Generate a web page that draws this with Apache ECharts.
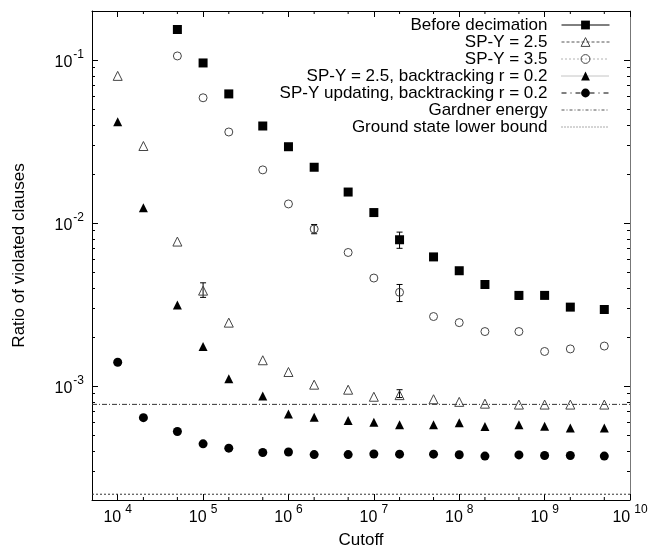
<!DOCTYPE html>
<html>
<head>
<meta charset="utf-8">
<script src="https://cdn.jsdelivr.net/npm/echarts@6/dist/echarts.min.js"></script>
<style>
  html, body { margin: 0; padding: 0; background: #fff; }
  #chart { width: 650px; height: 552px; }
</style>
</head>
<body>
<div id="chart"></div>
<script>
// cutoff values shared by every measured series
const cutoffs = [1e4, 2e4, 5e4, 1e5, 2e5, 5e5, 1e6, 2e6, 5e6, 1e7, 2e7, 5e7, 1e8, 2e8, 5e8, 1e9, 2e9, 5e9]

const beforeDecimation = [null, null, 0.154, 0.096, 0.062, 0.0394, 0.0294, 0.022, 0.0155, 0.0116, 0.0079, 0.0062, 0.0051, 0.0042, 0.0036, 0.0036, 0.00305, 0.00295]
const spy25 = [0.080, 0.0297, 0.0077, 0.00385, 0.00245, 0.00144, 0.00122, 0.00102, 0.00095, 0.00086, 0.00088, 0.00083, 0.0008, 0.00078, 0.00077, 0.00077, 0.00077, 0.00077]
const spy35 = [null, null, 0.106, 0.0587, 0.0362, 0.0212, 0.0131, 0.0092, 0.0066, 0.0046, 0.00376, 0.00267, 0.00245, 0.00216, 0.00216, 0.00163, 0.00169, 0.00176]
const spy25Back = [0.0419, 0.0124, 0.00314, 0.00175, 0.00111, 0.00087, 0.000675, 0.000643, 0.000614, 0.0006, 0.00058, 0.00058, 0.000595, 0.000565, 0.00058, 0.000566, 0.000553, 0.000553]
const spyUpdBack = [0.0014, 0.00064, 0.000526, 0.000442, 0.000416, 0.000391, 0.000394, 0.00038, 0.00038, 0.000383, 0.000382, 0.000382, 0.000379, 0.000372, 0.000378, 0.000375, 0.000375, 0.000372]

// error bars [cutoff, low, high]
const errBefore = [[2e7, 0.0070, 0.0088], [5e8, 0.0034, 0.0038]]
const errSpy35 = [[2e6, 0.0086, 0.0098], [2e7, 0.0033, 0.0042]]
const errSpy25 = [[1e5, 0.0035, 0.0043], [2e7, 0.00085, 0.00095]]

const gardnerEnergy = 0.000772
const groundStateBound = 0.000217

const xRange = [5000, 1e10]
const yRange = [2e-4, 0.2]
const xMinorTicks = [2e4, 5e4, 2e5, 5e5, 2e6, 5e6, 2e7, 5e7, 2e8, 5e8, 2e9, 5e9]

const font = 'Liberation Sans, Arial, Helvetica, sans-serif'

function pairs (ys) {
  return cutoffs.map((x, i) => [x, ys[i]]).filter(p => p[1] != null)
}

function powerLabel (v) {
  const l = Math.log10(v)
  const e = Math.round(l)
  if (Math.abs(l - e) > 1e-6) return ''
  return '{b|10}{s|' + e + '}'
}

function labelRich (gap) {
  return {
    b: { fontSize: 16, fontFamily: font, color: '#000', lineHeight: 22, verticalAlign: 'bottom' },
    s: { fontSize: 12, fontFamily: font, color: '#000', lineHeight: 22, verticalAlign: 'top', padding: [0, 0, 0, gap] }
  }
}

function renderErrorBar (params, api) {
  const top = api.coord([api.value(0), api.value(2)])
  const bottom = api.coord([api.value(0), api.value(1)])
  const w = 3
  const style = { stroke: '#000', lineWidth: 1 }
  return {
    type: 'group',
    children: [
      { type: 'line', shape: { x1: top[0], y1: top[1], x2: bottom[0], y2: bottom[1] }, style },
      { type: 'line', shape: { x1: top[0] - w, y1: top[1], x2: top[0] + w, y2: top[1] }, style },
      { type: 'line', shape: { x1: bottom[0] - w, y1: bottom[1], x2: bottom[0] + w, y2: bottom[1] }, style }
    ]
  }
}

function renderMinorTick (params, api) {
  const x = api.coord([api.value(0), yRange[0]])[0]
  const cs = params.coordSys
  const style = { stroke: '#000', lineWidth: 1 }
  return {
    type: 'group',
    children: [
      { type: 'line', shape: { x1: x, y1: cs.y + cs.height, x2: x, y2: cs.y + cs.height - 3 }, style },
      { type: 'line', shape: { x1: x, y1: cs.y, x2: x, y2: cs.y + 3 }, style }
    ]
  }
}

function dataSeries (name, ys, symbol, size, itemStyle) {
  return {
    name,
    type: 'line',
    data: pairs(ys),
    symbol,
    symbolSize: size,
    showSymbol: true,
    showAllSymbol: true,
    lineStyle: { opacity: 0 },
    itemStyle,
    emphasis: { disabled: true },
    animation: false,
    z: 3
  }
}

function hLine (name, value, lineStyle) {
  return {
    name,
    type: 'line',
    data: [[xRange[0], value], [xRange[1], value]],
    symbol: 'none',
    lineStyle,
    itemStyle: { color: lineStyle.color },
    emphasis: { disabled: true },
    animation: false,
    z: 2
  }
}

function errSeries (data) {
  return {
    type: 'custom',
    data,
    encode: { x: 0, y: [1, 2] },
    renderItem: renderErrorBar,
    silent: true,
    animation: false,
    z: 2
  }
}

const hollow = { color: 'rgba(255,255,255,0)', borderColor: '#444', borderWidth: 1 }

const legendItems = [
  { name: 'Before decimation', lineStyle: { color: '#000', width: 1, type: 'solid', opacity: 1 } },
  { name: 'SP-Y = 2.5', lineStyle: { color: '#555', width: 1, type: [3, 2], opacity: 1 }, itemStyle: { borderWidth: 1 } },
  { name: 'SP-Y = 3.5', lineStyle: { color: '#666', width: 1, type: [1, 3], opacity: 1 }, itemStyle: { borderWidth: 1 } },
  { name: 'SP-Y = 2.5, backtracking r = 0.2', lineStyle: { color: '#888', width: 1, type: [1, 1], opacity: 1 } },
  { name: 'SP-Y updating, backtracking r = 0.2', lineStyle: { color: '#000', width: 1, type: [5, 4, 1, 4], opacity: 1 } },
  { name: 'Gardner energy', lineStyle: { color: '#555', width: 1, type: [3, 2, 1, 2], opacity: 1 }, itemStyle: { opacity: 0 } },
  { name: 'Ground state lower bound', lineStyle: { color: '#555', width: 1, type: [1, 2], opacity: 1 }, itemStyle: { opacity: 0 } }
]

const baseAxis = {
  type: 'log',
  logBase: 10,
  axisLine: { onZero: false, lineStyle: { color: '#000', width: 1 } },
  axisTick: { inside: true, length: 6, lineStyle: { color: '#000' } },
  splitLine: { show: false }
}

const option = {
  backgroundColor: '#fff',
  animation: false,
  grid: { left: 92, right: 20, top: 11, bottom: 52, outerBoundsMode: 'none' },
  legend: {
    orient: 'vertical',
    right: 40,
    top: 16.5,
    padding: 0,
    align: 'right',
    itemWidth: 48,
    itemHeight: 11,
    itemGap: 0,
    selectedMode: false,
    textStyle: { fontSize: 17, fontFamily: font, color: '#000', lineHeight: 16.7, padding: [0, 9, 0, 0] },
    data: legendItems
  },
  xAxis: [
    {
      ...baseAxis,
      position: 'bottom',
      min: xRange[0],
      max: xRange[1],
      name: 'Cutoff',
      nameLocation: 'middle',
      nameGap: 32,
      nameTextStyle: { fontSize: 17, fontFamily: font, color: '#000' },
      axisLabel: { margin: 4, formatter: powerLabel, rich: labelRich(4) }
    },
    {
      ...baseAxis,
      position: 'top',
      min: xRange[0],
      max: xRange[1],
      axisLabel: { show: false }
    }
  ],
  yAxis: [
    {
      ...baseAxis,
      position: 'left',
      min: yRange[0],
      max: yRange[1],
      name: 'Ratio of violated clauses',
      nameLocation: 'middle',
      nameGap: 64,
      nameTextStyle: { fontSize: 17, fontFamily: font, color: '#000' },
      minorTick: { show: true, splitNumber: 9, length: 3, lineStyle: { color: '#000' } },
      axisLabel: { margin: 8, formatter: powerLabel, rich: labelRich(1) }
    },
    {
      ...baseAxis,
      position: 'right',
      min: yRange[0],
      max: yRange[1],
      axisLine: { onZero: false, lineStyle: { color: '#777', width: 1 } },
      minorTick: { show: true, splitNumber: 9, length: 3, lineStyle: { color: '#000' } },
      axisLabel: { show: false }
    }
  ],
  series: [
    dataSeries('Before decimation', beforeDecimation, 'rect', 9, { color: '#000' }),
    dataSeries('SP-Y = 2.5', spy25, 'triangle', 9, hollow),
    dataSeries('SP-Y = 3.5', spy35, 'circle', 8, hollow),
    dataSeries('SP-Y = 2.5, backtracking r = 0.2', spy25Back, 'triangle', 9, { color: '#000' }),
    dataSeries('SP-Y updating, backtracking r = 0.2', spyUpdBack, 'circle', 9, { color: '#000' }),
    hLine('Gardner energy', gardnerEnergy, { color: '#333', width: 1, type: [5, 2, 1, 2] }),
    hLine('Ground state lower bound', groundStateBound, { color: '#333', width: 1, type: [2, 2] }),
    errSeries(errBefore),
    errSeries(errSpy35),
    errSeries(errSpy25),
    {
      type: 'custom',
      data: xMinorTicks.map(v => [v, yRange[0]]),
      encode: { x: 0, y: 1 },
      renderItem: renderMinorTick,
      silent: true,
      clip: false,
      animation: false
    }
  ]
}

const chart = echarts.init(document.getElementById('chart'), null, { renderer: 'canvas' })
chart.setOption(option)
</script>
</body>
</html>
